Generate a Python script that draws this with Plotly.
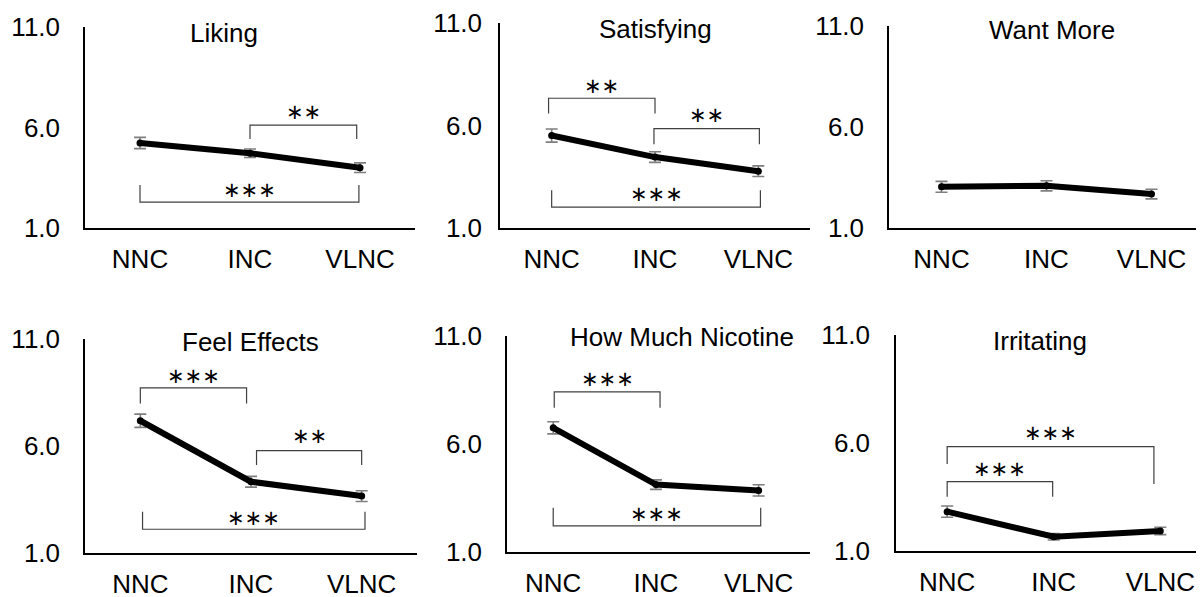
import plotly.graph_objects as go

categories = ["NNC", "INC", "VLNC"]
titles = ["Liking", "Satisfying", "Want More", "Feel Effects", "How Much Nicotine", "Irritating"]
y_ticks = [1.0, 6.0, 11.0]

liking = [5.23, 4.72, 4.00]
liking_err = [0.28, 0.21, 0.24]
satisfying = [5.51, 4.46, 3.77]
satisfying_err = [0.32, 0.26, 0.26]
want_more = [3.04, 3.09, 2.68]
want_more_err = [0.27, 0.25, 0.24]
feel_effects = [7.18, 4.33, 3.66]
feel_effects_err = [0.31, 0.25, 0.25]
how_much_nicotine = [6.75, 4.12, 3.85]
how_much_nicotine_err = [0.28, 0.22, 0.26]
irritating = [2.82, 1.66, 1.93]
irritating_err = [0.26, 0.15, 0.17]

# significance brackets: (x_from, x_to, y_bar, y_end_from, y_end_to, label, y_label)
liking_sig = [(1.0, 1.97, 6.12, 5.43, 5.43, "∗∗", 6.77),
              (0.0, 1.99, 2.29, 3.14, 3.14, "∗∗∗", 2.89)]
satisfying_sig = [(-0.03, 1.0, 7.33, 6.58, 6.58, "∗∗", 7.94),
                  (0.99, 2.01, 5.85, 5.08, 5.08, "∗∗", 6.49),
                  (0.0, 2.02, 2.02, 2.84, 2.84, "∗∗∗", 2.65)]
want_more_sig = []
feel_effects_sig = [(0.0, 0.96, 8.72, 7.99, 7.99, "∗∗∗", 9.27),
                    (1.05, 2.0, 5.78, 5.11, 5.11, "∗∗", 6.47),
                    (0.02, 2.03, 2.11, 2.93, 2.93, "∗∗∗", 2.64)]
how_much_nicotine_sig = [(0.01, 1.04, 8.41, 7.68, 7.68, "∗∗∗", 9.0),
                         (0.0, 2.02, 2.21, 3.05, 3.05, "∗∗∗", 2.77)]
irritating_sig = [(0.0, 1.94, 5.83, 5.03, 4.10, "∗∗∗", 6.46),
                  (0.0, 0.99, 4.21, 3.51, 3.51, "∗∗∗", 4.80)]

series = [liking, satisfying, want_more, feel_effects, how_much_nicotine, irritating]
errors = [liking_err, satisfying_err, want_more_err, feel_effects_err, how_much_nicotine_err, irritating_err]
sigs = [liking_sig, satisfying_sig, want_more_sig, feel_effects_sig, how_much_nicotine_sig, irritating_sig]

# page has an 8px body margin: figure is drawn 8px in from the top-left
OFF = 8
W, H = 1204 - OFF, 597 - OFF


def px(x):
    return (x - OFF) / W


def py(y):
    return 1 - (y - OFF) / H


# panel layout in page pixels: (x_left, x_right, y_top, y_bottom, x_range, ytick_gap, title_x, title_y)
panels = [
    (85, 415, 27, 228, [-0.5, 2.5], 18, 224, 33),
    (500, 810, 23, 228, [-0.5, 2.5], 11, 655, 29),
    (889, 1204, 26, 228, [-0.5, 2.5], 18, 1052, 30),
    (85, 417, 339, 553, [-0.5, 2.5], 18, 250, 342),
    (507, 810, 336, 552, [-0.45, 2.5], 18, 682, 337),
    (896, 1204, 335, 551, [-0.48, 2.41], 19, 1040, 341),
]

FONT = "Liberation Sans, Arial, sans-serif"
FS = 26
fig = go.Figure()
xs = list(range(len(categories)))
annotations = []
shapes = []
layout = {}
for i, (vals, errs, sig, p, title) in enumerate(zip(series, errors, sigs, panels, titles)):
    n = "" if i == 0 else str(i + 1)
    xl, xr, yt, yb, xrange, ygap, tx, ty = p
    fig.add_trace(go.Scatter(
        x=xs, y=vals, mode="lines+markers",
        line=dict(color="black", width=6),
        marker=dict(color="black", size=7),
        error_y=dict(type="data", array=errs, color="#7f7f7f", thickness=1.6, width=6),
        xaxis="x" + n, yaxis="y" + n, showlegend=False, hoverinfo="skip"))
    layout["xaxis" + n] = dict(
        domain=[px(xl), min(px(xr), 1.0)], range=xrange, anchor="y" + n, automargin=False,
        tickvals=xs, ticktext=categories, showline=True, linecolor="black", linewidth=1.5,
        showgrid=False, zeroline=False, ticks="outside", ticklen=7, tickcolor="rgba(0,0,0,0)",
        tickfont=dict(family=FONT, size=FS, color="black"), fixedrange=True)
    layout["yaxis" + n] = dict(
        domain=[py(yb), py(yt)], range=[1, 11], anchor="x" + n, automargin=False,
        tickvals=y_ticks, ticktext=[f"{v:.1f}" for v in y_ticks],
        showline=True, linecolor="black", linewidth=1.5,
        showgrid=False, zeroline=False, ticks="outside", ticklen=ygap, tickcolor="rgba(0,0,0,0)",
        tickfont=dict(family=FONT, size=FS, color="black"), fixedrange=True)
    annotations.append(dict(text=title, x=px(tx), y=py(ty), xref="paper", yref="paper",
                            xanchor="center", yanchor="middle", showarrow=False,
                            font=dict(family=FONT, size=FS, color="black")))
    for (x0, x1, yb_, ye0, ye1, lab, ylab) in sig:
        shapes.append(dict(type="path", xref="x" + n, yref="y" + n,
                           path=f"M {x0},{ye0} L {x0},{yb_} L {x1},{yb_} L {x1},{ye1}",
                           line=dict(color="#404040", width=1.2)))
        annotations.append(dict(text=lab, x=(x0 + x1) / 2, y=ylab, xref="x" + n, yref="y" + n,
                                xanchor="center", yanchor="middle", showarrow=False,
                                font=dict(family="DejaVu Sans", size=21, color="black")))

fig.update_layout(**layout)
fig.update_layout(width=W, height=H, margin=dict(l=0, r=0, t=0, b=0, autoexpand=False),
                  paper_bgcolor="white", plot_bgcolor="white",
                  annotations=annotations, shapes=shapes)
fig.write_html("out.html")
